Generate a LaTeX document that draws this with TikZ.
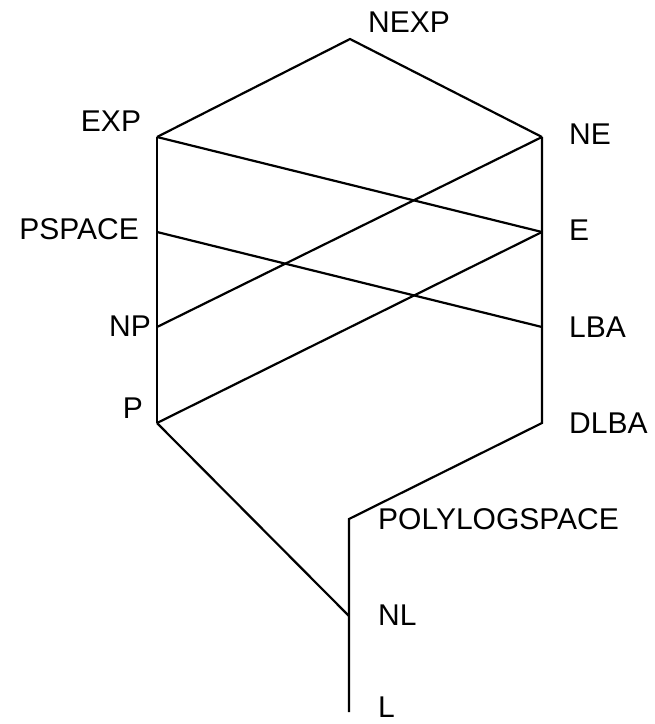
\documentclass[tikz,border=0pt]{standalone}
\usepackage{fontspec}
\setmainfont{Liberation Sans}
\begin{document}
\begin{tikzpicture}[x=1pt,y=-1pt,
  edge/.style={line width=2.2pt,line join=miter},
  cls/.style={inner sep=0pt,font=\fontsize{30}{31}\selectfont}]
\useasboundingbox (0,0) rectangle (655,724);
% lattice points
\coordinate (nexp) at (350,39);
\coordinate (exp) at (157,137);
\coordinate (ne) at (542,137);
\coordinate (pspace) at (157,232);
\coordinate (e) at (542,232);
\coordinate (np) at (157,327);
\coordinate (lba) at (542,327);
\coordinate (p) at (157,423);
\coordinate (dlba) at (542,423);
\coordinate (polylog) at (349,519);
\coordinate (nl) at (349,616);
\coordinate (l) at (349,712);
% class names
\node[cls] (tnexp) at (409,22) {NEXP};
\node[cls] (texp) at (111,121) {EXP};
\node[cls,anchor=west] (tne) at (569,134) {NE};
\node[cls,anchor=east] (tpspace) at (139,229) {PSPACE};
\node[cls,anchor=west] (te) at (569,230) {E};
\node[cls,anchor=east] (tnp) at (151,326) {NP};
\node[cls,anchor=east] (tp) at (143,408) {P};
\node[cls,anchor=west] (tlba) at (569,327) {LBA};
\node[cls,anchor=west] (tdlba) at (569,423) {DLBA};
\node[cls,anchor=west] (tpolylog) at (378,519) {POLYLOGSPACE};
\node[cls,anchor=west] (tnl) at (378,615) {NL};
\node[cls,anchor=west] (tl) at (378,707) {L};
% inclusions
\draw[edge] (exp) -- (nexp) -- (ne);
\draw[edge] (exp) -- (pspace) -- (np) -- (p);
\draw[edge] (ne) -- (e) -- (lba) -- (dlba) -- (polylog) -- (nl) -- (l);
\draw[edge] (exp) -- (e);
\draw[edge] (ne) -- (np);
\draw[edge] (pspace) -- (lba);
\draw[edge] (e) -- (p);
\draw[edge] (p) -- (nl);
\end{tikzpicture}
\end{document}
